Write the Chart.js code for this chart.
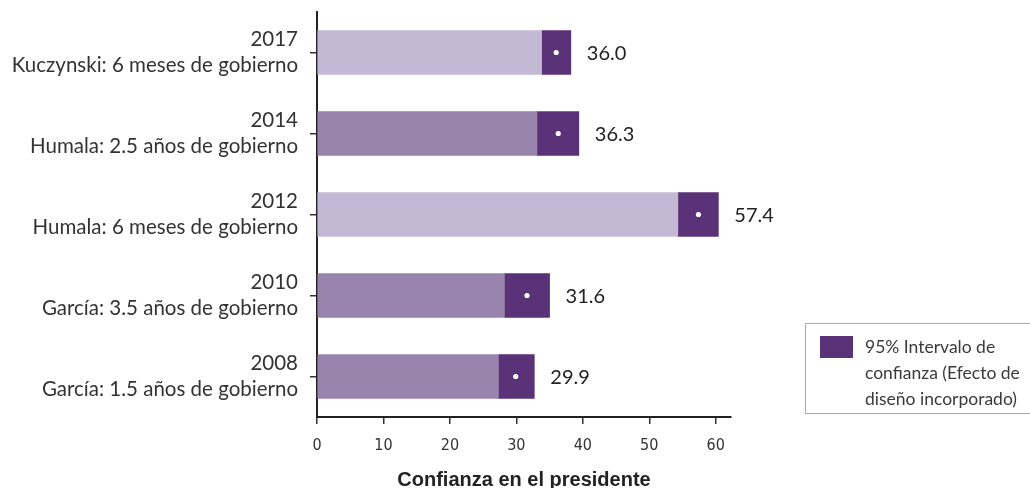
<!DOCTYPE html>
<html>
<head>
<meta charset="utf-8">
<script src="https://cdn.jsdelivr.net/npm/chart.js@4/dist/chart.umd.min.js"></script>
<style>
  html, body { margin: 0; padding: 0; background: #fff; }
  #wrap { width: 1030px; height: 488px; position: relative; }
</style>
</head>
<body>
<div id="wrap"><canvas id="c" width="1030" height="488"></canvas></div>
<script>
// ---- data ----
const yearLabels = ["2017", "2014", "2012", "2010", "2008"];
const periodLabels = [
  "Kuczynski: 6 meses de gobierno",
  "Humala: 2.5 años de gobierno",
  "Humala: 6 meses de gobierno",
  "García: 3.5 años de gobierno",
  "García: 1.5 años de gobierno"
];
const meanValues = [36.0, 36.3, 57.4, 31.6, 29.9];
const lowerCI = [33.8, 33.1, 54.3, 28.2, 27.3];
const upperCI = [38.2, 39.4, 60.4, 35.0, 32.7];
const xTicks = [0, 10, 20, 30, 40, 50, 60];
const xTitle = "Confianza en el presidente";
const legendLines = ["95% Intervalo de", "confianza (Efecto de", "diseño incorporado)"];

// ---- styles ----
const LIGHT = "#c3b9d4";
const MEDIUM = "#9984ae";
const DARK = "#5a3278";
const lightColors = [LIGHT, MEDIUM, LIGHT, MEDIUM, MEDIUM];
const mainFont = "Lato, 'Open Sans', sans-serif";

const categories = yearLabels.map((y, i) => [y, periodLabels[i]]);

const overlay = {
  id: "overlay",
  afterDatasetsDraw(chart) {
    const { ctx, scales: { x, y } } = chart;
    ctx.save();
    meanValues.forEach((m, i) => {
      const py = y.getPixelForValue(i);
      ctx.fillStyle = "#ffffff";
      ctx.beginPath();
      ctx.arc(x.getPixelForValue(m), py, 2.6, 0, Math.PI * 2);
      ctx.fill();
      ctx.fillStyle = "#222";
      ctx.font = "20px " + mainFont;
      ctx.textAlign = "left";
      ctx.textBaseline = "middle";
      ctx.fillText(m.toFixed(1), x.getPixelForValue(upperCI[i]) + 16, py + 1);
    });
    // legend
    ctx.strokeStyle = "#aaaaaa";
    ctx.lineWidth = 1;
    ctx.strokeRect(805.5, 323.5, 240, 90);
    ctx.fillStyle = DARK;
    ctx.fillRect(820, 336, 33, 22);
    ctx.fillStyle = "#3a3a3a";
    ctx.font = "17.5px " + mainFont;
    ctx.textBaseline = "middle";
    legendLines.forEach((t, k) => ctx.fillText(t, 865, 347 + k * 26));
    ctx.restore();
  }
};

new Chart(document.getElementById("c"), {
  type: "bar",
  data: {
    labels: categories,
    datasets: [
      {
        data: lowerCI.map(v => [0, v]),
        backgroundColor: lightColors,
        borderWidth: 0,
        grouped: false,
        barThickness: 44
      },
      {
        data: lowerCI.map((v, i) => [v, upperCI[i]]),
        backgroundColor: DARK,
        borderWidth: 0,
        grouped: false,
        barThickness: 44
      }
    ]
  },
  options: {
    indexAxis: "y",
    responsive: false,
    animation: false,
    devicePixelRatio: 1,
    layout: { padding: { top: 12, right: 299, bottom: 0, left: 0 } },
    plugins: { legend: { display: false }, tooltip: { enabled: false } },
    scales: {
      x: {
        min: 0,
        max: 62.3,
        afterFit: s => { s.height = 71; s.paddingLeft = 0; s.paddingRight = 0; },
        afterBuildTicks: s => { s.ticks = xTicks.map(v => ({ value: v })); },
        ticks: {
          includeBounds: false,
          color: "#333",
          font: { family: "'Liberation Sans Narrow', 'DejaVu Sans Condensed', sans-serif", size: 16 },
          padding: 12
        },
        grid: { drawOnChartArea: false, drawTicks: true, tickLength: 7, color: "#333", lineWidth: 1.5 },
        border: { display: true, color: "#222", width: 2 },
        title: {
          display: true,
          text: xTitle,
          color: "#222",
          font: { family: "'Liberation Sans', Arial, sans-serif", size: 20, weight: "bold" },
          padding: { top: 0, bottom: -4 }
        }
      },
      y: {
        afterFit: s => { s.width = 317; s.paddingTop = 0; s.paddingBottom = 0; },
        ticks: {
          color: "#333",
          font: { family: mainFont, size: 20.5, lineHeight: 1.3 },
          padding: 12
        },
        grid: { offset: false, drawOnChartArea: false, drawTicks: true, tickLength: 7, color: "#333", lineWidth: 1.5 },
        border: { display: true, color: "#222", width: 2 }
      }
    }
  },
  plugins: [overlay]
});
</script>
</body>
</html>
